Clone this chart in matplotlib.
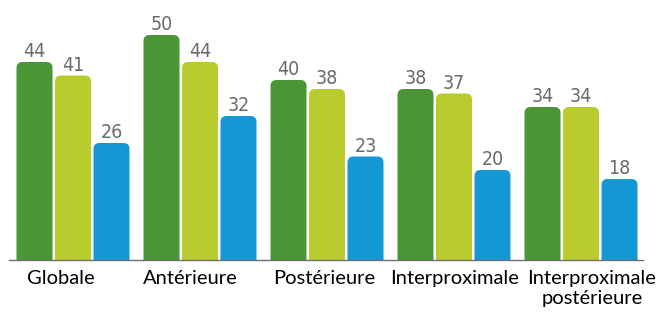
import numpy as np
import matplotlib
matplotlib.use("Agg")
from matplotlib import pyplot as plt
from matplotlib.patches import FancyBboxPatch

categories = ["Globale", "Antérieure", "Postérieure", "Interproximale",
              "Interproximale\npostérieure"]
serie1 = [44, 50, 40, 38, 34]
serie2 = [41, 44, 38, 37, 34]
serie3 = [26, 32, 23, 20, 18]
colors = ["#4a9535", "#b8cc2e", "#1398d4"]

W, H = 659, 315
fig = plt.figure(figsize=(W / 100, H / 100), dpi=100)
# axes placed in pixels: baseline at y=260, from x=9 to x=643
ax = fig.add_axes([9 / W, (H - 260) / H, (643 - 9) / W, 260 / H])

pitch = 127.0
bw = 36 / pitch
step = 38.5 / pitch
x = np.arange(len(categories))
ax.set_xlim((9 - 73) / pitch, (643 - 73) / pitch)
ax.set_ylim(0, 260 / 4.5)

# corner radius ~6px
r = 6 / pitch
asp = (6 / 4.5) / r

for k, vals in enumerate([serie1, serie2, serie3]):
    bars = ax.bar(x + (k - 1) * step, vals, width=bw, color=colors[k])
    for b, v in zip(bars, vals):
        bx, by = b.get_x(), b.get_y()
        bwid, bh = b.get_width(), b.get_height()
        b.remove()
        p = FancyBboxPatch((bx, by - 3), bwid, bh + 3,
                           boxstyle=f"round,pad=0,rounding_size={r}",
                           mutation_aspect=asp, facecolor=colors[k],
                           edgecolor="none")
        ax.add_patch(p)
        ax.text(bx + bwid / 2, bh + 0.2, str(v), ha="center", va="bottom",
                fontsize=14, color="#6a6a6a", family="DejaVu Sans",
                fontstretch="condensed")

for s in ["top", "right", "left"]:
    ax.spines[s].set_visible(False)
ax.spines["bottom"].set_color("#707070")
ax.spines["bottom"].set_linewidth(1.0)
ax.set_yticks([])
# labels are not exactly centred under the groups in the original
shift_px = [-12, -10, -3, 1, 11]
ax.set_xticks(x + np.array(shift_px) / pitch)
ax.set_xticklabels(categories, fontsize=14.5, family="Lato", color="black",
                   linespacing=1.2)
ax.tick_params(axis="x", length=0, pad=7)

fig.savefig("out.png", dpi=100)
